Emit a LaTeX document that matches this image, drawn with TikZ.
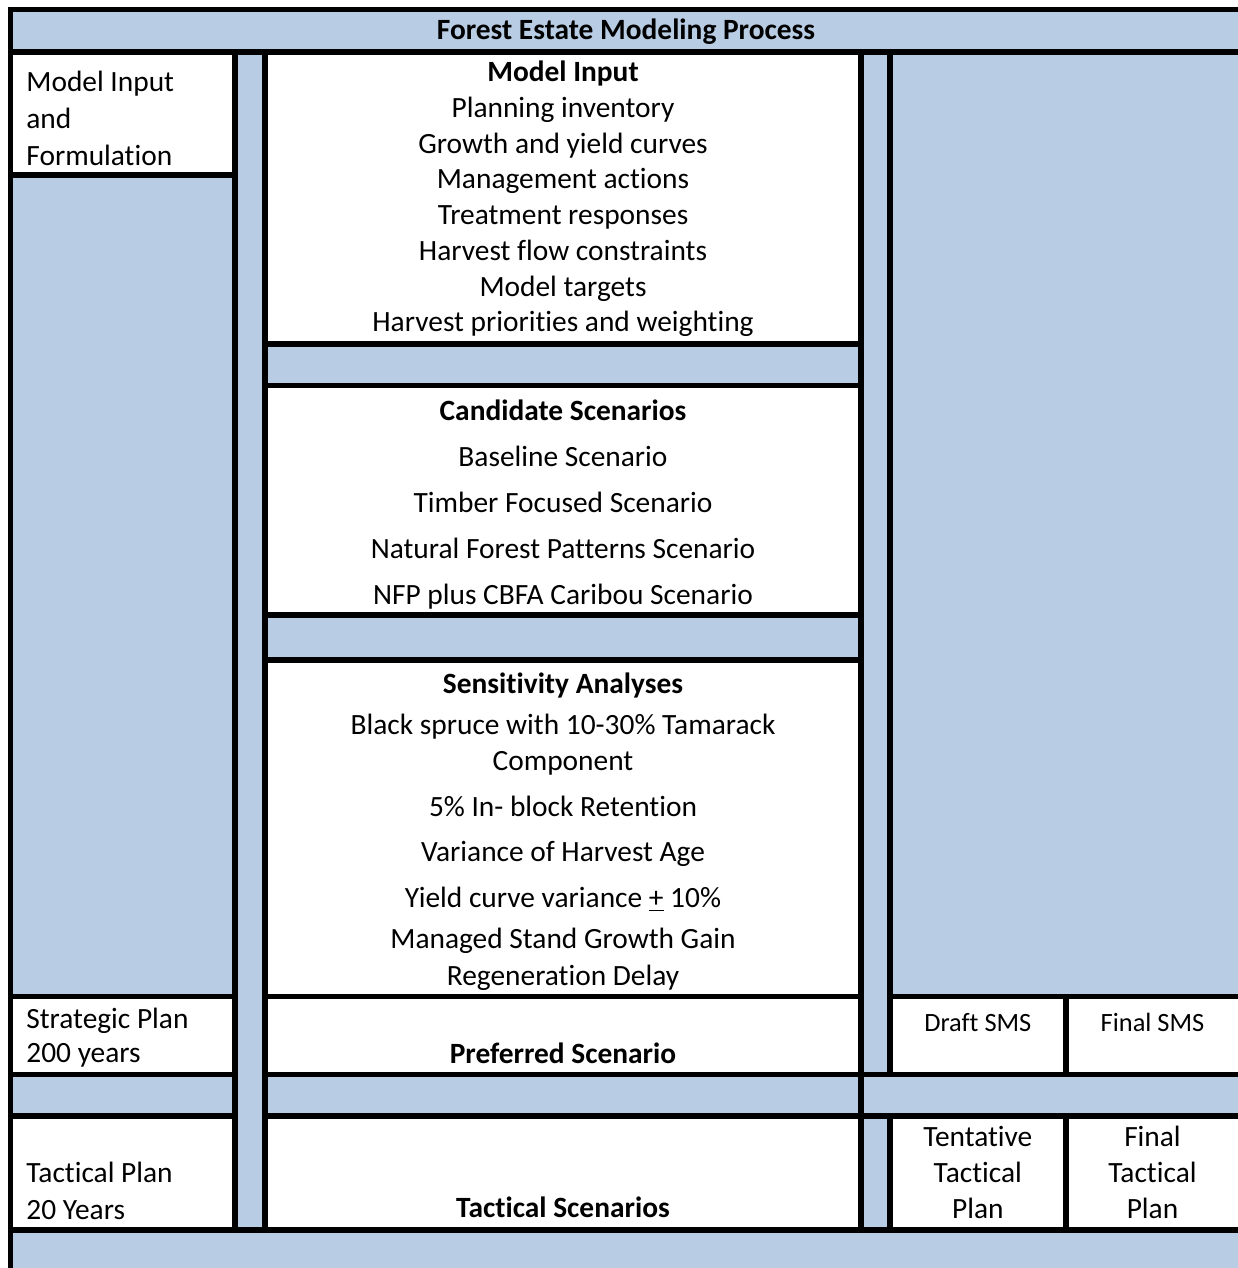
\documentclass[tikz,border=0pt]{standalone}
\usepackage{fontspec}
\setmainfont{Carlito}[Ligatures=NoCommon]
\usepackage{xcolor}
\usepackage{tikz}
\usetikzlibrary{positioning}
\definecolor{BandBlue}{RGB}{184,204,228}

\begin{document}
\begin{tikzpicture}[
  x=0.5pt, y=-0.5pt,
  font=\fontsize{14.7}{18}\selectfont,
  rule/.style={line width=2.8pt, black},
  cell/.style={draw=black, fill=white, line width=2.8pt},
  lbl/.style={inner sep=0pt, anchor=base west, align=left,
    font=\fontsize{14.7}{18.3}\selectfont},
  mid/.style={inner sep=0pt, anchor=base, align=center},
  bmid/.style={mid, font=\fontsize{14.7}{18}\selectfont\bfseries},
  sms/.style={inner sep=0pt, anchor=base, align=center,
    font=\fontsize{13.2}{18}\selectfont},
]
  \useasboundingbox (0,0) rectangle (1237,1268);

  % ========== Grund und Zellen ==========
  \fill[BandBlue] (10.5,9.5) rectangle (1250,1280);
  \foreach \xa/\ya/\xb/\yb in {
      10.5/52/235/175, 10.5/996.5/235/1074.5, 10.5/1116/235/1230,
      265/52/861/344, 265/385.5/861/615, 265/660/861/996.5,
      265/996.5/861/1074.5, 265/1116/861/1230,
      889.7/996.5/1066/1074.5, 1066/996.5/1250/1074.5,
      889.7/1116/1066/1230, 1066/1116/1250/1230}
    \draw[cell] (\xa,\ya) rectangle (\xb,\yb);

  % ========== Linien ==========
  \draw[rule] (10.5,1280) -- (10.5,9.5) -- (1250,9.5);
  \draw[rule] (10.5,52) -- (1250,52);
  \draw[rule] (235,52) -- (235,1230);
  \draw[rule] (265,52) -- (265,1230);
  \draw[rule] (861,52) -- (861,1230);
  \draw[rule] (889.7,52) -- (889.7,996.5);
  \draw[rule] (861,1074.5) -- (889.7,1074.5);
  \draw[rule] (861,1116) -- (889.7,1116);
  \draw[rule] (10.5,1230) -- (1250,1230);

  % ========== Texte (Anker = letzte Grundlinie) ==========
  \node[bmid] (title) at (626,40) {Forest Estate Modeling Process};

  % linke Spalte
  \node[lbl] (inLeft) at (26,165) {Model Input\\and\\Formulation};
  \node[lbl] (stratLeft) at (26,1062.7) {Strategic Plan\\[-1.1pt]200 years};
  \node[lbl] (tactLeft) at (26,1219.3) {Tactical Plan\\20 Years};

  % mittlere Spalte
  \node[mid, font=\fontsize{14.7}{17.85}\selectfont] (inMid) at (563,331.7)
    {\textbf{Model Input}\\Planning inventory\\Growth and yield curves\\
     Management actions\\Treatment responses\\Harvest flow constraints\\
     Model targets\\Harvest priorities and weighting};
  \node[mid] (candMid) at (563,604)
    {\textbf{Candidate Scenarios}\\[5pt]Baseline Scenario\\[5pt]
     Timber Focused Scenario\\[5pt]Natural Forest Patterns Scenario\\[5pt]
     NFP plus CBFA Caribou Scenario};
  \node[mid] (sensMid) at (563,985)
    {\textbf{Sensitivity Analyses}\\[2.35pt]Black spruce with 10-30\% Tamarack\\
     Component\\[5pt]5\% In- block Retention\\[4.85pt]
     Variance of Harvest Age\\[4.8pt]Yield curve variance \underline{+} 10\%\\[2.5pt]
     Managed Stand Growth Gain\\[0.35pt]Regeneration Delay};
  \node[bmid] (prefMid) at (563,1063.3) {Preferred Scenario};
  \node[bmid] (tactMid) at (563,1217.7) {Tactical Scenarios};

  % rechte Spalte
  \node[sms] (draftSms) at (977.8,1031.7) {Draft SMS};
  \node[sms] (finalSms) at (1152.5,1031.7) {Final SMS};
  \node[mid, font=\fontsize{14.7}{17.9}\selectfont] (tentPlan) at (977.8,1218.3)
    {Tentative\\Tactical\\Plan};
  \node[mid, font=\fontsize{14.7}{17.9}\selectfont] (finalPlan) at (1152.5,1218.3)
    {Final\\Tactical\\Plan};
\end{tikzpicture}
\end{document}
